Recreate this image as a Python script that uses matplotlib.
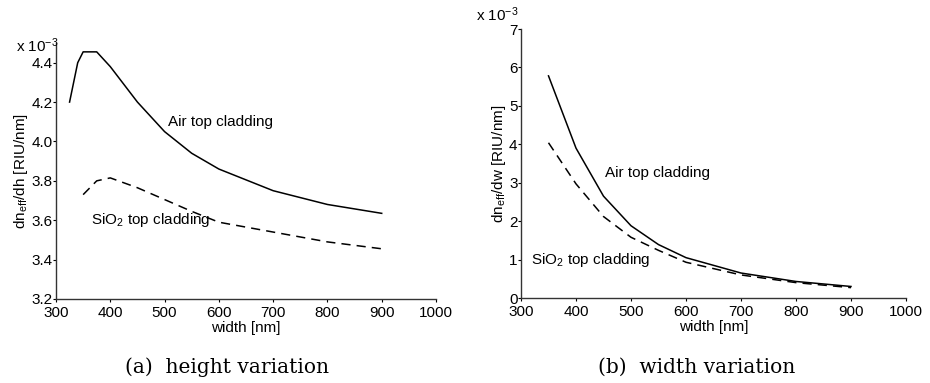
import matplotlib
matplotlib.use("Agg")
import matplotlib.pyplot as plt

plt.rcParams['font.family'] = ['Liberation Sans', 'DejaVu Sans']
plt.rcParams['mathtext.fontset'] = 'custom'
plt.rcParams['mathtext.rm'] = 'Liberation Sans'
plt.rcParams['mathtext.it'] = 'Liberation Sans'

# (a) sensitivity to waveguide height
h_air_x = [325, 340, 350, 375, 400, 450, 500, 550, 600, 700, 800, 900]
h_air_y = [4.20, 4.40, 4.455, 4.455, 4.38, 4.20, 4.05, 3.94, 3.86, 3.75, 3.68, 3.635]
h_sio2_x = [350, 375, 400, 450, 500, 550, 600, 700, 800, 900]
h_sio2_y = [3.73, 3.80, 3.815, 3.765, 3.705, 3.645, 3.59, 3.54, 3.49, 3.455]

# (b) sensitivity to waveguide width
w_x = [350, 400, 450, 500, 550, 600, 700, 800, 900]
w_air_y = [5.78, 3.90, 2.65, 1.88, 1.39, 1.05, 0.65, 0.43, 0.30]
w_sio2_y = [4.04, 2.97, 2.12, 1.58, 1.24, 0.93, 0.60, 0.40, 0.27]

x_ticks = [300, 400, 500, 600, 700, 800, 900, 1000]

fig = plt.figure(figsize=(9.3, 3.83), dpi=100)
W, H = 930, 383
FS = 11


def add_axes(x0, x1, y0, y1):
    return fig.add_axes([x0 / W, 1 - y1 / H, (x1 - x0) / W, (y1 - y0) / H])


ax1 = add_axes(56, 436, 43, 299)
ax2 = add_axes(521, 906, 29, 298)

ax1.plot(h_air_x, h_air_y, color='black', lw=1.1)
ax1.plot(h_sio2_x, h_sio2_y, color='black', lw=1.1, dashes=(6, 4))
ax1.set_ylim(3.2, 4.5)
ax1.set_yticks([3.2, 3.4, 3.6, 3.8, 4.0, 4.2, 4.4])
ax1.set_yticklabels(['3.2', '3.4', '3.6', '3.8', '4.0', '4.2', '4.4'])
ax1.text(506, 4.10, 'Air top cladding', fontsize=FS, va='center')
ax1.text(364, 3.60, 'SiO$_2$ top cladding', fontsize=FS, va='center')
ax1.set_ylabel('dn$_{\\mathrm{eff}}$/dh [RIU/nm]', fontsize=FS, labelpad=1)
fig.text(16 / W, 1 - 46 / H, 'x 10$^{-3}$', fontsize=FS, va='center')

ax2.plot(w_x, w_air_y, color='black', lw=1.1)
ax2.plot(w_x, w_sio2_y, color='black', lw=1.1, dashes=(6, 4))
ax2.set_ylim(0, 7)
ax2.set_yticks(range(8))
ax2.text(453, 3.25, 'Air top cladding', fontsize=FS, va='center')
ax2.text(318, 1.0, 'SiO$_2$ top cladding', fontsize=FS, va='center')
ax2.set_ylabel('dn$_{\\mathrm{eff}}$/dw [RIU/nm]', fontsize=FS, labelpad=1)
fig.text(476 / W, 1 - 15 / H, 'x 10$^{-3}$', fontsize=FS, va='center')

for ax in (ax1, ax2):
    ax.set_xlim(300, 1000)
    ax.set_xticks(x_ticks)
    ax.set_xlabel('width [nm]', fontsize=FS, labelpad=1)
    ax.spines['top'].set_visible(False)
    ax.spines['right'].set_visible(False)
    for s in ('left', 'bottom'):
        ax.spines[s].set_color('#333333')
        ax.spines[s].set_linewidth(1.0)
    ax.tick_params(axis='y', labelsize=FS, length=2, width=0.8, pad=0.5)
    ax.tick_params(axis='x', labelsize=FS, length=2, width=0.8, pad=3)

fig.text(227 / W, 1 - 367 / H, '(a)  height variation', fontsize=14.5,
         family='DejaVu Serif', ha='center', va='center')
fig.text(697 / W, 1 - 367 / H, '(b)  width variation', fontsize=14.5,
         family='DejaVu Serif', ha='center', va='center')

fig.savefig('out.png', dpi=100)
